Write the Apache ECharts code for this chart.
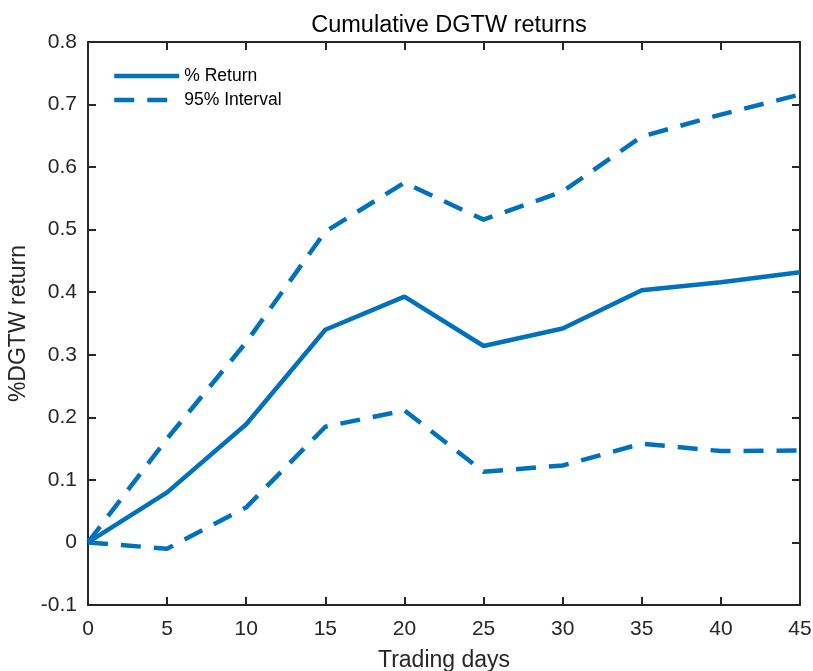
<!DOCTYPE html>
<html>
<head>
<meta charset="utf-8">
<script src="https://cdn.jsdelivr.net/npm/echarts@6/dist/echarts.min.js"></script>
<style>
  html, body { margin: 0; padding: 0; background: #fff; }
  #chart { width: 813px; height: 671px; }
</style>
</head>
<body>
<div id="chart"></div>
<script>
const days = [0, 5, 10, 15, 20, 25, 30, 35, 40, 45]
const returns = [0, 0.080, 0.189, 0.340, 0.393, 0.314, 0.342, 0.403, 0.416, 0.432]
const upper = [0, 0.166, 0.320, 0.497, 0.575, 0.516, 0.561, 0.649, 0.684, 0.716]
const lower = [0, -0.010, 0.056, 0.185, 0.211, 0.113, 0.123, 0.158, 0.146, 0.147]

const blue = '#0072BD'
const axisColor = '#262626'
const font = 'Liberation Sans, Arial, sans-serif'

const chart = echarts.init(document.getElementById('chart'))

const pairs = arr => days.map((d, i) => [d, arr[i]])

const axisBase = {
  axisLine: { show: true, onZero: false, lineStyle: { color: axisColor, width: 2 } },
  axisTick: { show: true, inside: true, length: 8, lineStyle: { color: axisColor, width: 2 } },
  splitLine: { show: false }
}

chart.setOption({
  animation: false,
  title: {
    text: 'Cumulative DGTW returns',
    left: 444, top: 9, textAlign: 'center',
    textStyle: { fontFamily: font, fontSize: 23.5, fontWeight: 'normal', color: '#000' }
  },
  legend: {
    orient: 'vertical',
    left: 112, top: 67, padding: 0,
    itemWidth: 65, itemHeight: 16, itemGap: 6,
    itemStyle: { opacity: 0 },
    lineStyle: { width: 4.5 },
    textStyle: { fontFamily: font, fontSize: 17.5, color: '#000' },
    data: [{ name: '% Return' }, { name: '95% Interval' }]
  },
  grid: { left: 88, top: 42, right: 13, bottom: 66, containLabel: false, outerBoundsMode: 'none' },
  xAxis: [
    Object.assign({}, axisBase, {
      type: 'value', min: 0, max: 45, interval: 5,
      name: 'Trading days', nameLocation: 'middle', nameGap: 44,
      nameTextStyle: { fontFamily: font, fontSize: 23, color: axisColor },
      axisLabel: { fontFamily: font, fontSize: 21, color: axisColor, margin: 14 }
    }),
    Object.assign({}, axisBase, {
      type: 'value', min: 0, max: 45, interval: 5, position: 'top',
      axisLabel: { show: false }
    })
  ],
  yAxis: [
    Object.assign({}, axisBase, {
      type: 'value', min: -0.1, max: 0.8, interval: 0.1,
      name: '%DGTW return', nameLocation: 'middle', nameGap: 58,
      nameTextStyle: { fontFamily: font, fontSize: 23, color: axisColor },
      axisLabel: {
        fontFamily: font, fontSize: 21, color: axisColor, margin: 11,
        formatter: v => (Math.abs(v) < 1e-9 ? '0' : parseFloat(v.toFixed(1)).toString())
      }
    }),
    Object.assign({}, axisBase, {
      type: 'value', min: -0.1, max: 0.8, interval: 0.1, position: 'right',
      axisLabel: { show: false }
    })
  ],
  series: [
    {
      name: '% Return', type: 'line', data: pairs(returns),
      showSymbol: false, symbol: 'none',
      lineStyle: { color: blue, width: 4.5 }, itemStyle: { color: blue }
    },
    {
      name: '95% Interval', type: 'line', data: pairs(upper),
      showSymbol: false, symbol: 'none',
      lineStyle: { color: blue, width: 4.5, type: [20, 13] }, itemStyle: { color: blue }
    },
    {
      name: '95% Interval', type: 'line', data: pairs(lower),
      showSymbol: false, symbol: 'none',
      lineStyle: { color: blue, width: 4.5, type: [20, 13] }, itemStyle: { color: blue }
    }
  ]
})
</script>
</body>
</html>
